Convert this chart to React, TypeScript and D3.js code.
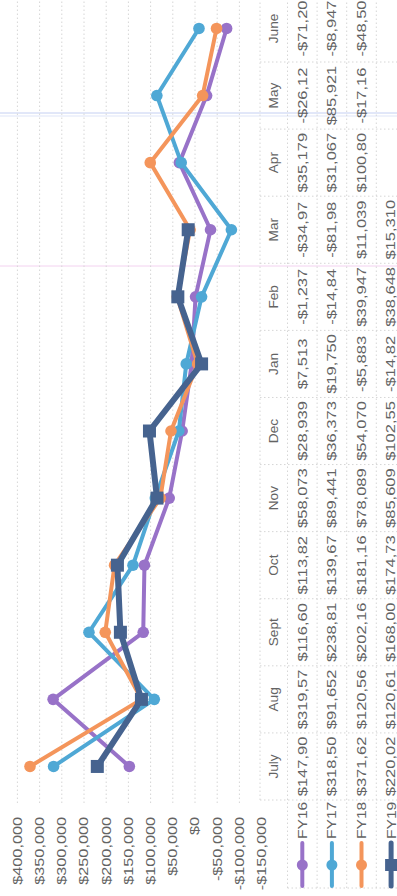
import React from "react";
import * as d3 from "d3";

const months = ["July", "Aug", "Sept", "Oct", "Nov", "Dec", "Jan", "Feb", "Mar", "Apr", "May", "June"];
const seriesNames = ["FY16", "FY17", "FY18", "FY19"];
const fy16 = [147905, 319575, 116605, 113825, 58073, 28939, 7513, -1237, -34975, 35179, -26125, -71205];
const fy17 = [318505, 91652, 238815, 139675, 89441, 36373, 19750, -14845, -81985, 31067, 85921, -8947];
const fy18 = [371625, 120565, 202165, 181165, 78089, 54070, -5883, 39947, 11039, 100805, -17165, -48505];
const fy19 = [220025, 120615, 168005, 174735, 85609, 102555, -14825, 38648, 15310];
const yTicks = [400000, 350000, 300000, 250000, 200000, 150000, 100000, 50000, 0, -50000, -100000, -150000];
const colors = ["#9872C8", "#4FA8D5", "#F4955B", "#46638F"];

const W = 896;
const H = 397;

function fmtMoney(v: number) {
  return (v < 0 ? "-" : "") + "$" + d3.format(",")(Math.abs(v));
}
function cellText(v: number) {
  return fmtMoney(v).slice(0, 7);
}

export default function App() {
  const data = [fy16, fy17, fy18, fy19];
  const step = 67.09;
  const x = d3
    .scaleBand<string>()
    .domain(months)
    .range([96, 96 + step * months.length]);
  const cx = (m: string) => (x(m) as number) + x.bandwidth() / 2;
  const y = d3.scaleLinear().domain([-150000, 400000]).range([261.6, 17.4]);
  const line = d3
    .line<number>()
    .x((_, i) => cx(months[i]))
    .y((d) => y(d));

  const tableTop = 260;
  const headerH = 27.5;
  const rowH = 29.6;
  const rowTop = (r: number) => tableTop + headerH + r * rowH;
  const textColor = "#636363";
  const font = "'Liberation Sans', Arial, sans-serif";
  const grid = "#d6d6d6";

  const T = (props: {
    x: number;
    y: number;
    s: number;
    anchor: string;
    size: number;
    children: React.ReactNode;
  }) => (
    <text
      transform={`translate(${props.x},${props.y}) scale(${props.s},1)`}
      textAnchor={props.anchor as any}
      dominantBaseline="central"
      fontFamily={font}
      fontSize={props.size}
      fill={textColor}
    >
      {props.children}
    </text>
  );

  return (
    <svg
      width={397}
      height={896}
      style={{ position: "absolute", left: 0, top: 0, background: "#fff" }}
    >
      <rect x={0} y={0} width={397} height={896} fill="#fff" />
      <g transform={`translate(0,${W}) rotate(-90)`}>
        {/* faint artefact lines */}
        <line x1={783} x2={783} y1={0} y2={H} stroke="#c4cff2" strokeWidth={1} />
        <line x1={780} x2={780} y1={0} y2={H} stroke="#dfe5f8" strokeWidth={1} />
        <line x1={630} x2={630} y1={0} y2={H} stroke="#f3d2f0" strokeWidth={1} />

        {/* gridlines */}
        {yTicks
          .filter((t) => t > -150000)
          .map((t) => (
            <line
              key={t}
              x1={93}
              x2={W}
              y1={y(t)}
              y2={y(t)}
              stroke={grid}
              strokeWidth={1}
              strokeDasharray="1.5 2.5"
            />
          ))}

        {/* axis labels */}
        {yTicks.map((t) => (
          <T key={t} x={79} y={y(t)} s={1.3} anchor="end" size={12.5}>
            {fmtMoney(t)}
          </T>
        ))}

        {/* table grid */}
        <line x1={96} x2={W} y1={tableTop} y2={tableTop} stroke={grid} strokeDasharray="1.5 2.5" />
        {[0, 1, 2, 3].map((r) => (
          <line
            key={"r" + r}
            x1={8}
            x2={W}
            y1={rowTop(r)}
            y2={rowTop(r)}
            stroke={grid}
            strokeDasharray="1.5 2.5"
          />
        ))}
        <line x1={8} x2={8} y1={rowTop(0)} y2={H} stroke={grid} strokeDasharray="1.5 2.5" />
        {months.map((m) => (
          <line
            key={"c" + m}
            x1={x(m) as number}
            x2={x(m) as number}
            y1={tableTop}
            y2={H}
            stroke={grid}
            strokeDasharray="1.5 2.5"
          />
        ))}

        {/* month header */}
        {months.map((m) => (
          <T key={"h" + m} x={cx(m)} y={tableTop + headerH / 2} s={1.05} anchor="middle" size={13}>
            {m}
          </T>
        ))}

        {/* table values */}
        {data.map((vals, r) =>
          vals.map((v, i) => (
            <T
              key={"v" + r + "-" + i}
              x={cx(months[i])}
              y={rowTop(r) + rowH / 2}
              s={1.27}
              anchor="middle"
              size={13}
            >
              {cellText(v)}
            </T>
          ))
        )}

        {/* legend */}
        {seriesNames.map((n, r) => {
          const yy = rowTop(r) + rowH / 2;
          const isSq = r === 3;
          return (
            <g key={"l" + n}>
              <line x1={10} x2={53} y1={yy} y2={yy} stroke={colors[r]} strokeWidth={isSq ? 5 : 4} strokeLinecap="round" />
              {isSq ? (
                <rect x={31 - 6} y={yy - 6} width={12} height={12} fill={colors[r]} />
              ) : (
                <circle cx={31} cy={yy} r={5.5} fill={colors[r]} />
              )}
              <T x={57} y={yy} s={1.2} anchor="start" size={13}>
                {n}
              </T>
            </g>
          );
        })}

        {/* series */}
        {data.map((vals, s) => (
          <g key={"s" + s}>
            <path
              d={line(vals) as string}
              fill="none"
              stroke={colors[s]}
              strokeWidth={s === 3 ? 6 : 4}
              strokeLinejoin="round"
            />
            {vals.map((v, i) =>
              s === 3 ? (
                <rect
                  key={i}
                  x={cx(months[i]) - 6.5}
                  y={y(v) - 6.5}
                  width={13}
                  height={13}
                  fill={colors[s]}
                />
              ) : (
                <circle key={i} cx={cx(months[i])} cy={y(v)} r={5.8} fill={colors[s]} />
              )
            )}
          </g>
        ))}
      </g>
    </svg>
  );
}
